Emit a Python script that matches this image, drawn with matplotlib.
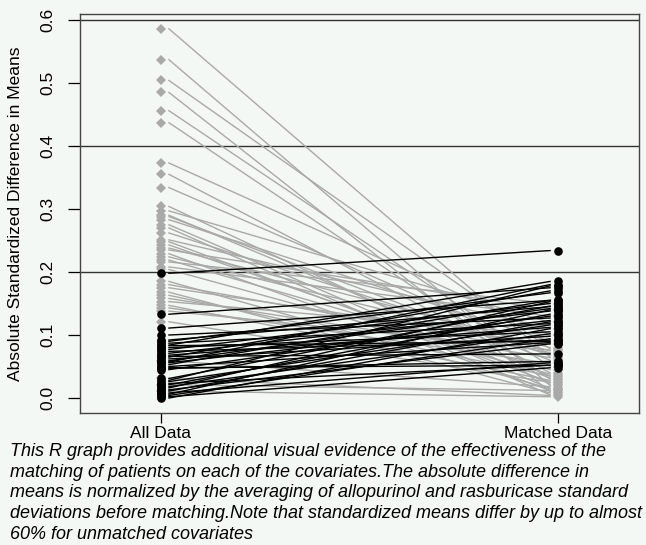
import matplotlib.pyplot as plt

# covariates whose imbalance went down after matching (grey)
before_down = [0.586, 0.537, 0.504, 0.485, 0.456, 0.437, 0.373, 0.355, 0.334,
               0.304, 0.297, 0.290, 0.288, 0.283, 0.275, 0.270, 0.262, 0.251,
               0.248, 0.243, 0.238, 0.235, 0.229, 0.224, 0.219, 0.216, 0.208,
               0.204, 0.185, 0.180, 0.175, 0.168, 0.163, 0.158, 0.153, 0.147,
               0.143, 0.138, 0.121, 0.059, 0.031, 0.021, 0.011]
after_down = [0.065, 0.020, 0.078, 0.010, 0.050, 0.030, 0.100, 0.040, 0.070,
              0.022, 0.120, 0.035, 0.060, 0.090, 0.015, 0.005, 0.068, 0.110,
              0.025, 0.032, 0.080, 0.140, 0.012, 0.075, 0.045, 0.150, 0.130,
              0.038, 0.015, 0.072, 0.085, 0.008, 0.035, 0.064, 0.100, 0.028,
              0.055, 0.076, 0.025, 0.018, 0.004, 0.012, 0.002]

# covariates whose imbalance went up after matching (black)
before_up = [0.198, 0.133, 0.111, 0.100, 0.092, 0.090, 0.087, 0.084, 0.083,
             0.080, 0.077, 0.074, 0.071, 0.068, 0.066, 0.065, 0.062, 0.059,
             0.057, 0.056, 0.053, 0.050, 0.048, 0.047, 0.045, 0.031, 0.028,
             0.026, 0.023, 0.021, 0.018, 0.016, 0.013, 0.011, 0.008, 0.006,
             0.004, 0.002, 0.000]
after_up = [0.234, 0.175, 0.155, 0.127, 0.145, 0.167, 0.118, 0.185, 0.090,
            0.105, 0.150, 0.092, 0.138, 0.112, 0.070, 0.170, 0.098, 0.142,
            0.180, 0.123, 0.155, 0.088, 0.052, 0.058, 0.130, 0.146, 0.178,
            0.116, 0.052, 0.133, 0.102, 0.153, 0.086, 0.121, 0.056, 0.140,
            0.094, 0.048, 0.110]

x_labels = ['All Data', 'Matched Data']
ref_lines = [0.2, 0.4, 0.6]

caption = ("This R graph provides additional visual evidence of the effectiveness of the\n"
           "matching of patients on each of the covariates.The absolute difference in\n"
           "means is normalized by the averaging of allopurinol and rasburicase standard\n"
           "deviations before matching.Note that standardized means differ by up to almost\n"
           "60% for unmatched covariates")

bg = '#f3f8f4'
grey = '#a9a9a9'
plt.rcParams['font.family'] = ['Liberation Sans', 'DejaVu Sans']

fig = plt.figure(figsize=(6.46, 5.45), dpi=100, facecolor=bg)
ax = fig.add_axes([80 / 646, 1 - 413 / 545, 559 / 646, 399 / 545])
ax.set_facecolor(bg)

for y in ref_lines:
    ax.axhline(y, color='#333333', lw=1.0, zorder=1)

for b, a in zip(before_down, after_down):
    ax.plot([1.02, 1.98], [b, a], color=grey, lw=1.0, zorder=2)
for b, a in zip(before_up, after_up):
    ax.plot([1.02, 1.98], [b, a], color='black', lw=1.0, zorder=3)

ax.plot([1] * len(before_down), before_down, 'D', color=grey, ms=5.5, mew=0, zorder=4)
ax.plot([2] * len(after_down), after_down, 'D', color=grey, ms=5.5, mew=0, zorder=4)
ax.plot([1] * len(before_up), before_up, 'o', color='black', ms=6.2, mew=0, zorder=5)
ax.plot([2] * len(after_up), after_up, 'o', color='black', ms=6.2, mew=0, zorder=5)

ax.set_xlim(1 - 81 / 397, 2 + 81 / 397)
ax.set_ylim(-15 / 630, -15 / 630 + 399 / 630)
ax.set_xticks([1, 2])
ax.set_xticklabels(x_labels, fontsize=12.5)
ax.set_yticks([0, 0.1, 0.2, 0.3, 0.4, 0.5, 0.6])
ax.set_yticklabels(['0.0', '0.1', '0.2', '0.3', '0.4', '0.5', '0.6'],
                   rotation=90, va='center', fontsize=12.5)
ax.tick_params(axis='y', length=9, width=0.9, pad=9)
ax.tick_params(axis='x', length=7, width=0.9, pad=2)
ax.set_ylabel('Absolute Standardized Difference in Means', fontsize=12.5, labelpad=12)
for s in ax.spines.values():
    s.set_color('#444444')
    s.set_linewidth(1.0)

fig.text(10 / 646, 1 - 443 / 545, caption, ha='left', va='top', fontsize=13,
         style='italic', linespacing=1.28)

fig.savefig('out.png', dpi=100, facecolor=bg)
